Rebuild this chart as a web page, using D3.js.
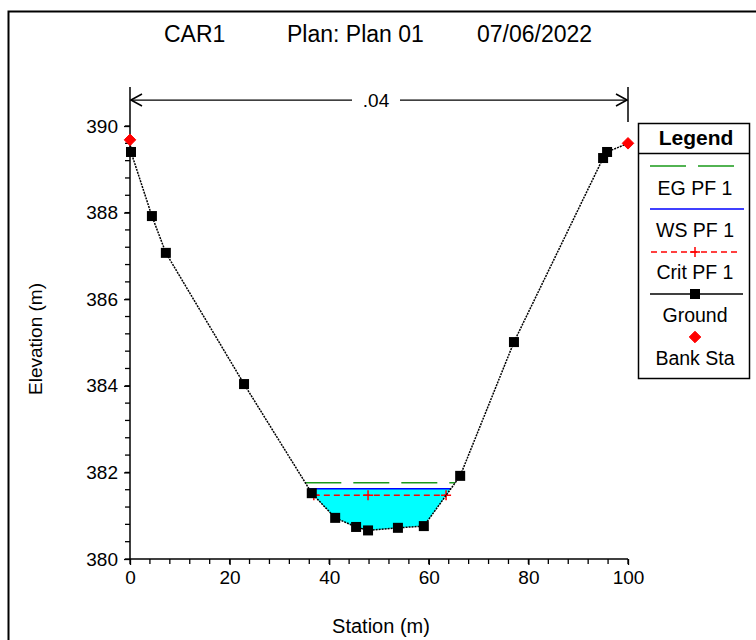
<!DOCTYPE html>
<html><head><meta charset="utf-8">
<script src="https://cdn.jsdelivr.net/npm/d3@7"></script>
<style>body{margin:0;background:#fff;}svg{display:block;font-family:"Liberation Sans",Arial,sans-serif;}</style>
</head><body>
<script>
const titleParts = ["CAR1", "Plan: Plan 01", "07/06/2022"];
const groundSta  = [0, 0.2, 4.4, 7.2, 22.9, 36.5, 41.2, 45.4, 47.8, 53.8, 59.0, 66.3, 77.1, 95.0, 95.8, 100];
const groundElev = [389.68, 389.4, 387.92, 387.07, 384.04, 381.52, 380.95, 380.74, 380.66, 380.72, 380.76, 381.92, 385.01, 389.26, 389.4, 389.6];
const bankSta  = [0, 100];
const bankElev = [389.68, 389.6];
const egElev = 381.76, wsElev = 381.62, critElev = 381.47;
const manningN = ".04";
const xTicks = [0, 20, 40, 60, 80, 100];
const yTicks = [380, 382, 384, 386, 388, 390];
const legendItems = ["EG PF 1", "WS PF 1", "Crit PF 1", "Ground", "Bank Sta"];

const W = 756, H = 640;
const svg = d3.select("body").append("svg").attr("width", W).attr("height", H);
svg.append("rect").attr("x", 8.5).attr("y", 11.5).attr("width", 800).attr("height", 700)
  .attr("fill", "none").attr("stroke", "#000").attr("stroke-width", 2);

const x = d3.scaleLinear().domain([0, 100]).range([130, 628]);
const y = d3.scaleLinear().domain([380, 390]).range([559, 126]);
const yTop = 390.9;

const ground = groundSta.map((s, i) => [s, groundElev[i]]);

function crossings(level) {
  const pts = [];
  for (let i = 0; i < ground.length - 1; i++) {
    const [s0, e0] = ground[i], [s1, e1] = ground[i + 1];
    if ((e0 - level) * (e1 - level) < 0) {
      pts.push(s0 + (level - e0) / (e1 - e0) * (s1 - s0));
    }
  }
  return [pts[0], pts[pts.length - 1]];
}

// water polygon
const [wl, wr] = crossings(wsElev);
const poly = [[wl, wsElev]];
ground.forEach(p => { if (p[0] > wl && p[0] < wr) poly.push(p); });
poly.push([wr, wsElev]);
svg.append("path").attr("d", d3.line().x(d => x(d[0])).y(d => y(d[1]))(poly) + "Z")
  .attr("fill", "#00ffff").attr("stroke", "none");

// axes
const gx = svg.append("g").attr("transform", `translate(0,${y(380)})`);
gx.append("line").attr("x1", x(0)).attr("x2", x(100)).attr("stroke", "#000").attr("stroke-width", 1.5);
d3.range(0, 101, 4).forEach(v => {
  gx.append("line").attr("x1", x(v)).attr("x2", x(v)).attr("y1", 0).attr("y2", 5).attr("stroke", "#000").attr("stroke-width", 1.3);
});
gx.call(d3.axisBottom(x).tickValues(xTicks).tickSize(6).tickFormat(d3.format("d")))
  .call(g => g.select(".domain").remove())
  .call(g => g.selectAll("text").attr("font-size", 19).attr("font-family", "Liberation Sans, Arial").attr("y", 9).attr("dy", "0.85em").attr("fill", "#000"))
  .call(g => g.selectAll(".tick line").attr("stroke-width", 1.3));

const gy = svg.append("g").attr("transform", `translate(${x(0)},0)`);
gy.append("line").attr("y1", y(380)).attr("y2", y(yTop)).attr("stroke", "#000").attr("stroke-width", 1.5);
d3.range(0, 26).map(i => 380 + i * 0.4).forEach(v => {
  gy.append("line").attr("x1", -5).attr("x2", 0).attr("y1", y(v)).attr("y2", y(v)).attr("stroke", "#000").attr("stroke-width", 1.3);
});
gy.call(d3.axisLeft(y).tickValues(yTicks).tickSize(6).tickFormat(d3.format("d")))
  .call(g => g.select(".domain").remove())
  .call(g => g.selectAll("text").attr("font-size", 19).attr("font-family", "Liberation Sans, Arial").attr("x", -12).attr("fill", "#000"))
  .call(g => g.selectAll(".tick line").attr("stroke-width", 1.3));

// n-value arrow
const arrowY = y(yTop) + 13;
svg.append("line").attr("x1", x(100)).attr("x2", x(100)).attr("y1", y(yTop)).attr("y2", y(yTop) + 35).attr("stroke", "#000").attr("stroke-width", 1.5);
svg.append("line").attr("x1", x(0)).attr("x2", 352).attr("y1", arrowY).attr("y2", arrowY).attr("stroke", "#000").attr("stroke-width", 1.3);
svg.append("line").attr("x1", 400).attr("x2", x(100)).attr("y1", arrowY).attr("y2", arrowY).attr("stroke", "#000").attr("stroke-width", 1.3);
svg.append("path").attr("d", `M${x(0)+1},${arrowY} L${x(0)+12},${arrowY-6} M${x(0)+1},${arrowY} L${x(0)+12},${arrowY+6}`).attr("stroke", "#000").attr("stroke-width", 1.5).attr("fill", "none");
svg.append("path").attr("d", `M${x(100)-1},${arrowY} L${x(100)-12},${arrowY-6} M${x(100)-1},${arrowY} L${x(100)-12},${arrowY+6}`).attr("stroke", "#000").attr("stroke-width", 1.5).attr("fill", "none");
svg.append("text").attr("x", 376).attr("y", arrowY + 7).attr("text-anchor", "middle").attr("font-size", 19).text(manningN);

// water surface lines
const [el, er] = crossings(egElev);
svg.append("line").attr("x1", x(el)).attr("x2", x(er)).attr("y1", y(egElev)).attr("y2", y(egElev))
  .attr("stroke", "#1a9a1a").attr("stroke-width", 1.5).attr("stroke-dasharray", "36,12");
svg.append("line").attr("x1", x(wl)).attr("x2", x(wr)).attr("y1", y(wsElev)).attr("y2", y(wsElev))
  .attr("stroke", "#0000ff").attr("stroke-width", 1.5);
const [cl, cr] = crossings(critElev);
svg.append("line").attr("x1", x(cl)).attr("x2", x(cr)).attr("y1", y(critElev)).attr("y2", y(critElev))
  .attr("stroke", "#ff0000").attr("stroke-width", 1.5).attr("stroke-dasharray", "6,4");
function plus(cx, cy) {
  svg.append("path").attr("d", `M${cx-5},${cy} H${cx+5} M${cx},${cy-5} V${cy+5}`).attr("stroke", "#ff0000").attr("stroke-width", 1.5);
}
const thalweg = ground.reduce((a, b) => (b[1] < a[1] ? b : a));
[cl, thalweg[0], cr].forEach(s => plus(x(s), y(critElev)));

// ground
svg.append("path").attr("d", d3.line().x(d => x(d[0])).y(d => y(d[1]))(ground))
  .attr("fill", "none").attr("stroke", "#000").attr("stroke-width", 1.5).attr("stroke-dasharray", "2,1");
ground.filter(p => !bankSta.includes(p[0])).forEach(p => {
  svg.append("rect").attr("x", x(p[0]) - 5).attr("y", y(p[1]) - 5).attr("width", 10).attr("height", 10).attr("fill", "#000");
});
const diamond = d3.symbol(d3.symbolDiamond2, 85)();
bankSta.forEach((s, i) => {
  svg.append("path").attr("d", diamond).attr("transform", `translate(${x(s)},${y(bankElev[i])})`)
    .attr("fill", "#ff0000").attr("stroke", "#ff0000").attr("stroke-width", 1).attr("stroke-linejoin", "round");
});

// title
const titleX = [164, 287, 477];
titleParts.forEach((t, i) => svg.append("text").attr("x", titleX[i]).attr("y", 42).attr("font-size", 23).text(t));

// axis labels
svg.append("text").attr("x", 381).attr("y", 633).attr("text-anchor", "middle").attr("font-size", 20).text("Station (m)");
svg.append("text").attr("transform", `translate(42,339) rotate(-90)`).attr("text-anchor", "middle").attr("font-size", 19).text("Elevation (m)");

// legend
const lg = svg.append("g");
lg.append("rect").attr("x", 638.5).attr("y", 123.5).attr("width", 111).attr("height", 255).attr("fill", "#fff").attr("stroke", "#000").attr("stroke-width", 1.5);
lg.append("line").attr("x1", 638.5).attr("x2", 749.5).attr("y1", 153.5).attr("y2", 153.5).attr("stroke", "#000").attr("stroke-width", 1.5);
lg.append("text").attr("x", 696).attr("y", 145).attr("text-anchor", "middle").attr("font-size", 21).attr("font-weight", "bold").text("Legend");
const cx = 695;
lg.append("line").attr("x1", 650).attr("x2", 738).attr("y1", 166).attr("y2", 166).attr("stroke", "#1a9a1a").attr("stroke-width", 1.5).attr("stroke-dasharray", "36,12");
lg.append("line").attr("x1", 650).attr("x2", 744).attr("y1", 209).attr("y2", 209).attr("stroke", "#0000ff").attr("stroke-width", 1.5);
lg.append("line").attr("x1", 651).attr("x2", 741).attr("y1", 252).attr("y2", 252).attr("stroke", "#ff0000").attr("stroke-width", 1.5).attr("stroke-dasharray", "6,4");
lg.append("path").attr("d", `M${cx-5},252 H${cx+5} M${cx},247 V257`).attr("stroke", "#ff0000").attr("stroke-width", 1.5);
lg.append("line").attr("x1", 650).attr("x2", 743).attr("y1", 294).attr("y2", 294).attr("stroke", "#000").attr("stroke-width", 1.5);
lg.append("rect").attr("x", cx - 5).attr("y", 289).attr("width", 10).attr("height", 10).attr("fill", "#000");
lg.append("path").attr("d", diamond).attr("transform", `translate(${cx},337)`).attr("fill", "#ff0000").attr("stroke", "#ff0000").attr("stroke-width", 1).attr("stroke-linejoin", "round");
const legendY = [195, 237, 279, 322, 365];
legendItems.forEach((t, i) => lg.append("text").attr("x", cx).attr("y", legendY[i]).attr("text-anchor", "middle").attr("font-size", 19.5).text(t));
</script>
</body></html>
